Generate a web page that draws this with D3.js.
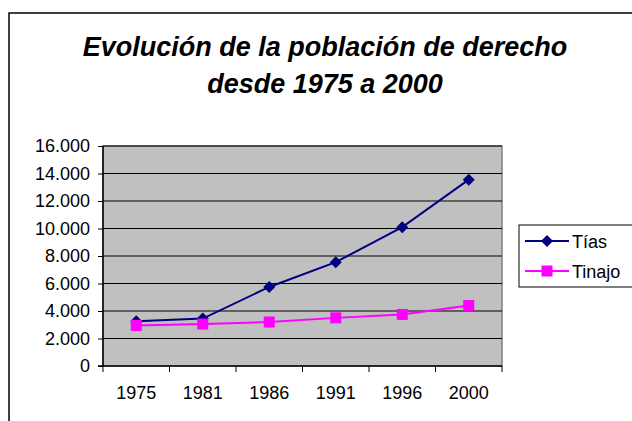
<!DOCTYPE html>
<html lang="es">
<head>
<meta charset="utf-8">
<script src="https://d3js.org/d3.v7.min.js"></script>
<style>
  body { margin: 0; background: #fff; }
  svg { display: block; font-family: "Liberation Sans", Arial, sans-serif; }
</style>
</head>
<body>
<script>
// datos
var years = ["1975", "1981", "1986", "1991", "1996", "2000"];
var tias = [3250, 3450, 5750, 7550, 10100, 13550];
var tinajo = [2950, 3050, 3200, 3500, 3750, 4400];
var yTicks = [0, 2000, 4000, 6000, 8000, 10000, 12000, 14000, 16000];
var seriesNames = ["Tías", "Tinajo"];

var w = 632, h = 421;
var pLeft = 103, pRight = 502, pTop = 146, pBottom = 366;
var fontFam = "'Liberation Sans', Arial, sans-serif";

var svg = d3.select("body").append("svg")
  .attr("width", w)
  .attr("height", h);

// marco exterior
svg.append("rect")
  .attr("x", 9).attr("y", 13)
  .attr("width", 700).attr("height", 500)
  .attr("fill", "#fff")
  .attr("stroke", "#000")
  .attr("stroke-width", 1.5);

// titulo
var title = svg.append("text")
  .attr("text-anchor", "middle")
  .attr("font-size", 27)
  .attr("font-weight", "bold")
  .attr("font-style", "italic");
title.append("tspan").attr("x", 325).attr("y", 56).text("Evolución de la población de derecho");
title.append("tspan").attr("x", 325).attr("y", 93).text("desde 1975 a 2000");

var x = d3.scaleBand().domain(years).range([pLeft, pRight]);
var y = d3.scaleLinear().domain([0, 16000]).range([pBottom, pTop]);

// area de trazado
svg.append("rect")
  .attr("x", pLeft).attr("y", pTop)
  .attr("width", pRight - pLeft).attr("height", pBottom - pTop)
  .attr("fill", "#c0c0c0")
  .attr("stroke", "#808080")
  .attr("stroke-width", 1.5);

// lineas de division
svg.selectAll(".grid")
  .data(yTicks.filter(function(d) { return d > 0; }))
  .enter().append("line")
  .attr("x1", pLeft).attr("x2", pRight)
  .attr("y1", function(d) { return y(d); })
  .attr("y2", function(d) { return y(d); })
  .attr("stroke", "#000")
  .attr("stroke-width", 1);

// eje Y
var yAxis = d3.axisLeft(y)
  .tickValues(yTicks)
  .tickSize(5)
  .tickPadding(8)
  .tickFormat(function(d) { return d3.format(",")(d).replace(/,/g, "."); });
var gy = svg.append("g").attr("transform", "translate(" + pLeft + ",0)").call(yAxis);
gy.select(".domain").attr("d", "M0," + pTop + "V" + pBottom).attr("stroke-width", 1.5);
gy.selectAll("text").attr("font-size", 18).attr("fill", "#000").attr("font-family", fontFam);

// eje X
var xAxis = d3.axisBottom(x).tickSize(0).tickPadding(20);
var gx = svg.append("g").attr("transform", "translate(0," + pBottom + ")").call(xAxis);
gx.select(".domain").attr("d", "M" + (pLeft - 5) + ",0H" + pRight).attr("stroke-width", 1.5);
gx.selectAll("text").attr("font-size", 18).attr("fill", "#000").attr("font-family", fontFam);
gx.selectAll(".bound")
  .data(d3.range(years.length + 1))
  .enter().append("line")
  .attr("x1", function(i) { return pLeft + i * x.step(); })
  .attr("x2", function(i) { return pLeft + i * x.step(); })
  .attr("y1", 0).attr("y2", 6)
  .attr("stroke", "#000");

var line = d3.line()
  .x(function(d, i) { return x(years[i]) + x.bandwidth() / 2; })
  .y(function(d) { return y(d); });

// Tías
svg.append("path").datum(tias)
  .attr("d", line)
  .attr("fill", "none")
  .attr("stroke", "#000080")
  .attr("stroke-width", 2);
svg.selectAll(".dia").data(tias).enter().append("path")
  .attr("transform", function(d, i) { return "translate(" + (x(years[i]) + x.bandwidth() / 2) + "," + y(d) + ")"; })
  .attr("d", "M0,-6L6,0L0,6L-6,0Z")
  .attr("fill", "#000080");

// Tinajo
svg.append("path").datum(tinajo)
  .attr("d", line)
  .attr("fill", "none")
  .attr("stroke", "#ff00ff")
  .attr("stroke-width", 2);
svg.selectAll(".sq").data(tinajo).enter().append("rect")
  .attr("x", function(d, i) { return x(years[i]) + x.bandwidth() / 2 - 5.5; })
  .attr("y", function(d) { return y(d) - 5.5; })
  .attr("width", 11).attr("height", 11)
  .attr("fill", "#ff00ff");

// leyenda
var lg = svg.append("g");
lg.append("rect")
  .attr("x", 519).attr("y", 225)
  .attr("width", 140).attr("height", 62)
  .attr("fill", "#fff")
  .attr("stroke", "#000")
  .attr("stroke-width", 1);
var colors = ["#000080", "#ff00ff"];
seriesNames.forEach(function(name, i) {
  var cy = 241 + i * 30;
  lg.append("line")
    .attr("x1", 525).attr("x2", 569)
    .attr("y1", cy).attr("y2", cy)
    .attr("stroke", colors[i]).attr("stroke-width", 2);
  if (i === 0) {
    lg.append("path")
      .attr("transform", "translate(547," + cy + ")")
      .attr("d", "M0,-6L6,0L0,6L-6,0Z")
      .attr("fill", colors[i]);
  } else {
    lg.append("rect")
      .attr("x", 541.5).attr("y", cy - 5.5)
      .attr("width", 11).attr("height", 11)
      .attr("fill", colors[i]);
  }
  lg.append("text")
    .attr("x", 572).attr("y", cy + 6.5)
    .attr("font-size", 18)
    .text(name);
});
</script>
</body>
</html>
